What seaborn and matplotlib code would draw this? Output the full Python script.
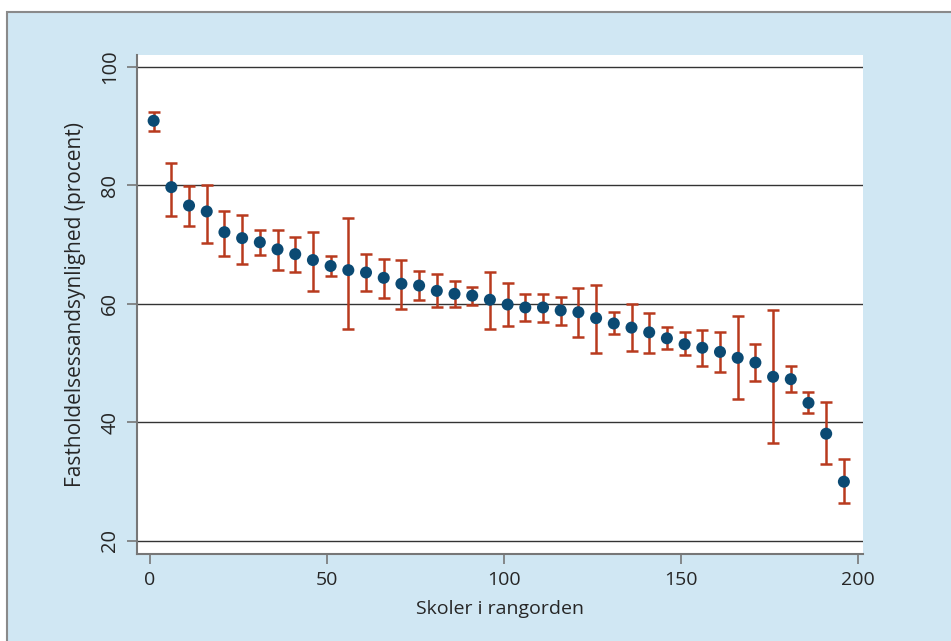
import numpy as np
import pandas as pd
import seaborn as sns
import matplotlib.pyplot as plt
from matplotlib.patches import Rectangle

# rank of school (every 5th school shown)
rank = [1, 6, 11, 16, 21, 26, 31, 36, 41, 46,
        51, 56, 61, 66, 71, 76, 81, 86, 91, 96,
        101, 106, 111, 116, 121, 126, 131, 136, 141, 146,
        151, 156, 161, 166, 171, 176, 181, 186, 191, 196]

estimate = [90.9, 79.7, 76.6, 75.6, 72.1, 71.1, 70.4, 69.2, 68.4, 67.4,
            66.4, 65.7, 65.3, 64.4, 63.4, 63.1, 62.2, 61.7, 61.4, 60.7,
            59.9, 59.4, 59.4, 58.9, 58.6, 57.6, 56.7, 56.0, 55.2, 54.2,
            53.2, 52.6, 51.9, 50.9, 50.1, 47.7, 47.3, 43.3, 38.1, 30.0]

upper = [92.4, 83.7, 79.9, 80.1, 75.7, 75.0, 72.5, 72.4, 71.3, 72.1,
         68.0, 74.5, 68.4, 67.6, 67.4, 65.5, 65.1, 63.9, 62.9, 65.4,
         63.5, 61.7, 61.7, 61.1, 62.7, 63.2, 58.6, 60.0, 58.5, 56.1,
         55.2, 55.6, 55.3, 57.9, 53.2, 59.0, 49.5, 45.1, 43.5, 33.8]

lower = [89.1, 74.9, 73.1, 70.3, 68.1, 66.8, 68.2, 65.8, 65.3, 62.2,
         64.7, 55.8, 62.1, 61.0, 59.2, 60.6, 59.4, 59.5, 59.9, 55.7,
         56.2, 57.2, 56.9, 56.5, 54.4, 51.7, 54.9, 52.0, 51.7, 52.4,
         51.3, 49.5, 48.5, 43.9, 47.0, 36.5, 45.1, 41.6, 33.0, 26.4]

df = pd.DataFrame({'rank': rank, 'estimate': estimate, 'upper': upper, 'lower': lower})

bg = '#d0e7f3'
bar_col = '#b83a1e'
dot_col = '#0b4a73'

sns.set_style('white')
plt.rcParams['font.family'] = ['Open Sans', 'DejaVu Sans']

fig = plt.figure(figsize=(9.51, 6.41), dpi=100)
fig.patch.set_facecolor('white')
# light blue panel with grey frame
fig.patches.append(Rectangle((7 / 951, -0.05), 1.1, (641 - 12) / 641 + 0.05,
                             transform=fig.transFigure, facecolor=bg,
                             edgecolor='#8a8a8a', linewidth=1.5, zorder=-10))

ax = fig.add_axes([137 / 951, (641 - 554) / 641, (863 - 137) / 951, (554 - 55) / 641])
ax.set_facecolor('white')

ax.errorbar(df['rank'], df['estimate'],
            yerr=[df['estimate'] - df['lower'], df['upper'] - df['estimate']],
            fmt='none', ecolor=bar_col, elinewidth=1.8, capsize=4, capthick=1.8, zorder=2)
sns.scatterplot(data=df, x='rank', y='estimate', ax=ax, color=dot_col,
                s=75, edgecolor='none', zorder=3)

ax.set_xlim(-3.7, 201.4)
ax.set_ylim(17.8, 102)
ax.set_xticks([0, 50, 100, 150, 200])
ax.set_yticks([20, 40, 60, 80, 100])
ax.yaxis.grid(True, color='#333333', linewidth=1)
ax.set_axisbelow(True)

for s in ['top', 'right']:
    ax.spines[s].set_visible(False)
for s in ['left', 'bottom']:
    ax.spines[s].set_color('#777777')
    ax.spines[s].set_linewidth(1.5)

ax.tick_params(axis='both', which='major', length=7, width=1.2, color='#777777',
               labelsize=14, pad=5, bottom=True, left=True)
ax.tick_params(axis='y', labelsize=14.5)
for lab in ax.get_yticklabels():
    lab.set_rotation(90)
    lab.set_va('center')

ax.set_xlabel('Skoler i rangorden', fontsize=14, labelpad=8)
ax.set_ylabel('Fastholdelsessandsynlighed (procent)', fontsize=15, labelpad=10)

fig.savefig('out.png', dpi=100, facecolor=fig.get_facecolor())
